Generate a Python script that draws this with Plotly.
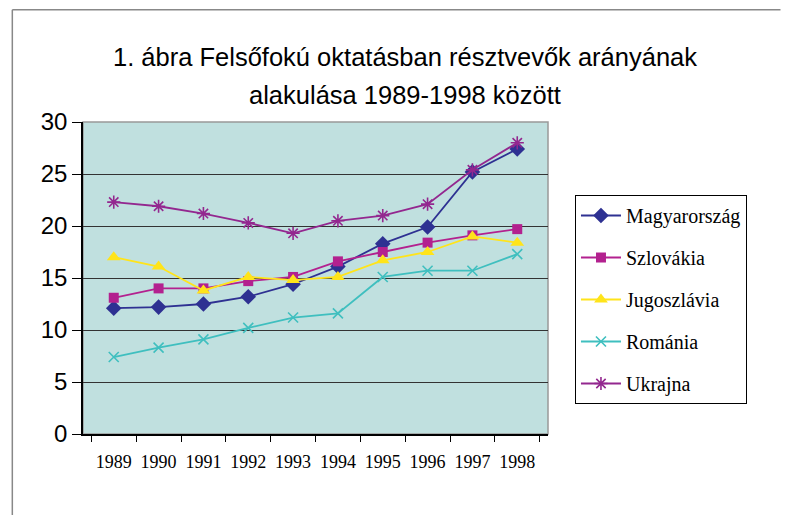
import plotly.graph_objects as go

years = ['1989', '1990', '1991', '1992', '1993', '1994', '1995', '1996', '1997', '1998']

magyarorszag = [12.1, 12.2, 12.5, 13.2, 14.4, 16.1, 18.3, 19.9, 25.2, 27.4]
szlovakia = [13.1, 14.0, 14.0, 14.7, 15.1, 16.6, 17.5, 18.4, 19.1, 19.7]
jugoszlavia = [17.0, 16.1, 13.8, 15.1, 14.8, 15.1, 16.7, 17.5, 19.0, 18.4]
romania = [7.4, 8.3, 9.1, 10.2, 11.2, 11.6, 15.1, 15.7, 15.7, 17.3]
ukrajna = [22.3, 21.9, 21.2, 20.3, 19.3, 20.5, 21.0, 22.1, 25.4, 28.0]

title_lines = ['1. ábra Felsőfokú oktatásban résztvevők arányának',
               'alakulása 1989-1998 között']

series = [
    ('Magyarország', magyarorszag, '#2e3192', 'diamond', 12),
    ('Szlovákia', szlovakia, '#b3218f', 'square', 10),
    ('Jugoszlávia', jugoszlavia, '#ffe41a', 'triangle-up', 12),
    ('Románia', romania, '#3fbfbf', 'x-thin-open', 10),
    ('Ukrajna', ukrajna, '#93278f', 'asterisk-open', 11),
]

fig = go.Figure()

for i, (name, vals, color, symbol, size) in enumerate(series):
    open_sym = symbol.endswith('open')
    fig.add_trace(go.Scatter(
        x=years, y=vals, name=name, mode='lines+markers',
        legendgroup='g%d' % i,
        line=dict(color=color, width=1.8),
        marker=dict(symbol=symbol, size=size, color=color,
                    line=dict(color=color, width=1.6 if open_sym else 0)),
    ))

# page has an 8px body margin, so the figure is shrunk by that amount
fig.update_layout(
    width=783, height=507,
    margin=dict(l=75, r=243, t=114, b=81),
    paper_bgcolor='white',
    plot_bgcolor='#c0e0df',
    legend=dict(
        x=1.058, xanchor='left', y=0.766, yanchor='top',
        bordercolor='black', borderwidth=1,
        font=dict(family='Liberation Serif, serif', size=20, color='black'),
        tracegroupgap=13,
        itemwidth=40,
    ),
    showlegend=True,
)

# title as two lines so the line spacing matches
for txt, ypos in zip(title_lines, [1.208, 1.087]):
    fig.add_annotation(
        text=txt, xref='paper', yref='paper', x=0.692, y=ypos,
        xanchor='center', yanchor='middle', showarrow=False,
        font=dict(family='Liberation Sans Narrow, Arial Narrow, Liberation Sans, sans-serif',
                  size=25.5, color='black'),
    )

fig.update_xaxes(
    type='category',
    showgrid=False,
    showline=True, linecolor='black', linewidth=1.5,
    ticks='outside', tickson='boundaries', ticklen=6, tickcolor='black',
    tickfont=dict(family='Liberation Serif, serif', size=18, color='black'),
    tickangle=0,
    ticklabelstandoff=11,
    mirror=False,
)

fig.update_yaxes(
    range=[0, 30], dtick=5,
    showgrid=True, gridcolor='#333333', gridwidth=1,
    showline=True, linecolor='black', linewidth=1.5,
    ticks='outside', ticklen=9, tickcolor='black',
    tickfont=dict(family='Liberation Sans, Arial, sans-serif', size=24, color='black'),
    zeroline=False,
)

# plot area top/right border
fig.add_shape(type='rect', xref='paper', yref='paper', x0=0, y0=0, x1=1, y1=1,
              line=dict(color='#999999', width=1.5), layer='below')
# outer chart border (left and top visible)
fig.add_shape(type='line', xref='paper', yref='paper', x0=-0.152, x1=1.5, y0=1.36, y1=1.36,
              line=dict(color='#888888', width=1.5))
fig.add_shape(type='line', xref='paper', yref='paper', x0=-0.152, x1=-0.152, y0=-0.3, y1=1.36,
              line=dict(color='#888888', width=1.5))

fig.write_html("out.html")
